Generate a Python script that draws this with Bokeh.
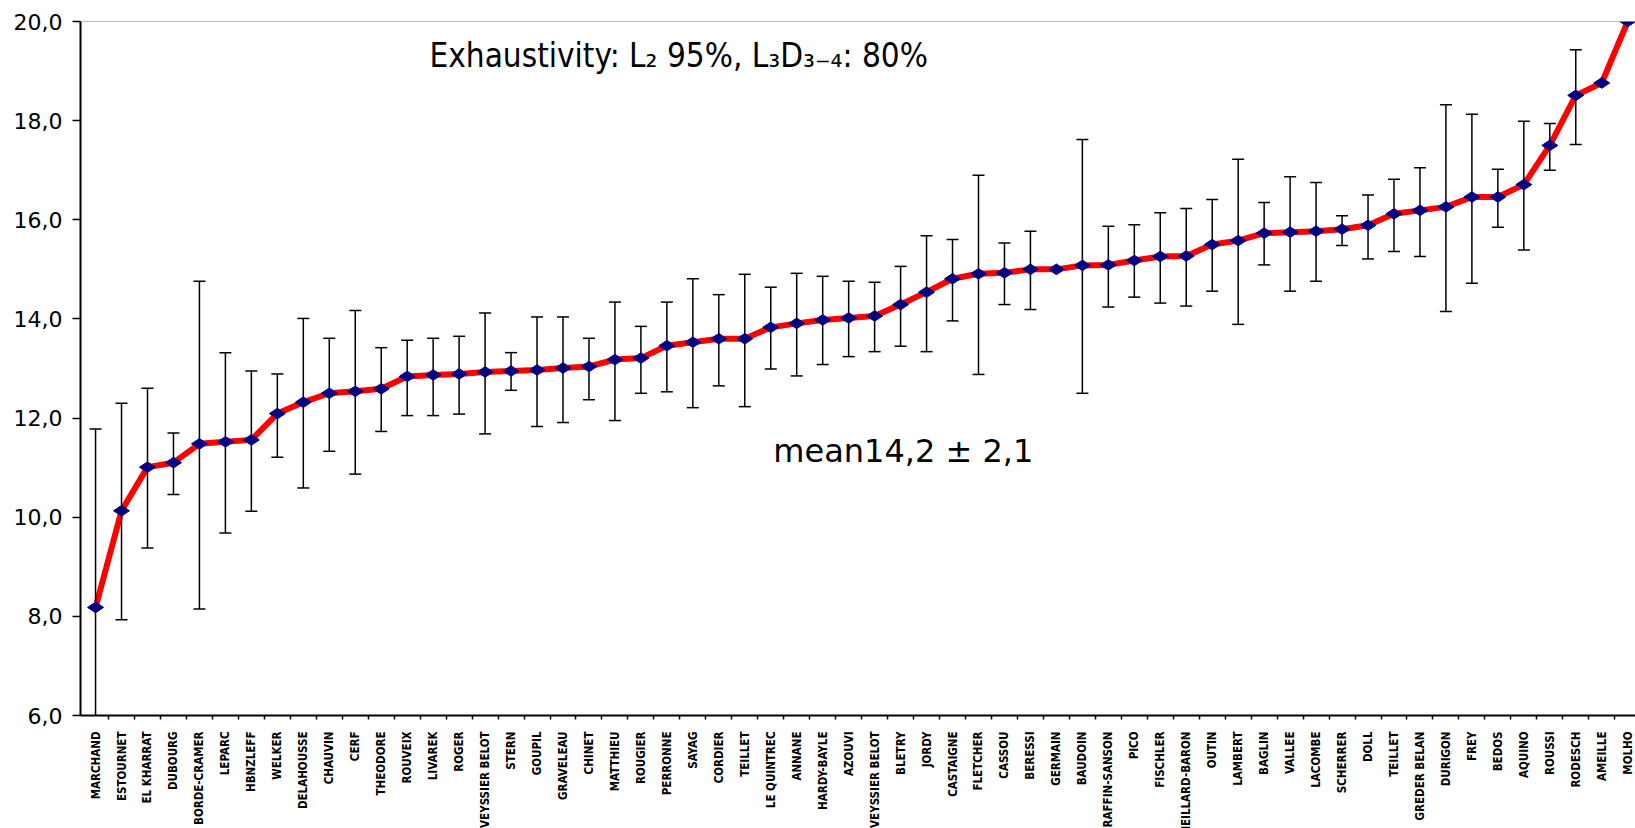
import math
from bokeh.plotting import figure
from bokeh.layouts import column
from bokeh.models import Range1d, FixedTicker, Span, Label
from bokeh.core.properties import value
from bokeh.embed import file_html
from bokeh.resources import INLINE

# ---------------- data ----------------
names = ["MARCHAND", "ESTOURNET", "EL KHARRAT", "DUBOURG", "BORDE-CRAMER", "LEPARC",
         "HBNZLEFF", "WELKER", "DELAHOUSSE", "CHAUVIN", "CERF", "THEODORE", "ROUVEIX",
         "LIVAREK", "ROGER", "VEYSSIER BELOT", "STERN", "GOUPIL", "GRAVELEAU", "CHINET",
         "MATTHIEU", "ROUGIER", "PERRONNE", "SAYAG", "CORDIER", "TEILLET", "LE QUINTREC",
         "ANNANE", "HARDY-BAYLE", "AZOUVI", "VEYSSIER BELOT", "BLETRY", "JORDY",
         "CASTAIGNE", "FLETCHER", "CASSOU", "BERESSI", "GERMAIN", "BAUDOIN",
         "RAFFIN-SANSON", "PICO", "FISCHLER", "VIEILLARD-BARON", "OUTIN", "LAMBERT",
         "BAGLIN", "VALLEE", "LACOMBE", "SCHERRER", "DOLL", "TEILLET", "GREDER BELAN",
         "DURIGON", "FREY", "BEDOS", "AQUINO", "ROUSSI", "RODESCH", "AMEILLE", "MOLHO"]

means = [8.18, 10.13, 11.01, 11.10, 11.48, 11.52, 11.56, 12.09, 12.32, 12.50,
         12.54, 12.59, 12.84, 12.87, 12.89, 12.93, 12.95, 12.97, 13.01, 13.04,
         13.18, 13.21, 13.46, 13.53, 13.60, 13.60, 13.83, 13.91, 13.98, 14.02,
         14.06, 14.29, 14.54, 14.81, 14.91, 14.93, 15.00, 15.00, 15.08, 15.09,
         15.18, 15.26, 15.27, 15.50, 15.58, 15.73, 15.75, 15.77, 15.81, 15.89,
         16.12, 16.19, 16.26, 16.46, 16.46, 16.71, 17.50, 18.51, 18.76, 20.00]

upper = [11.78, 12.30, 12.60, 11.70, 14.76, 13.32, 12.95, 12.89, 14.01, 13.61,
         14.17, 13.42, 13.57, 13.61, 13.65, 14.12, 13.32, 14.04, 14.04, 13.61,
         14.34, 13.85, 14.34, 14.81, 14.49, 14.90, 14.64, 14.92, 14.86, 14.76,
         14.74, 15.06, 15.68, 15.60, 16.90, 15.53, 15.77, 15.00, 17.62, 15.87,
         15.90, 16.14, 16.23, 16.41, 17.22, 16.35, 16.87, 16.75, 16.08, 16.50,
         16.82, 17.05, 18.32, 18.13, 17.02, 17.99, 17.94, 19.43, 18.76, 20.00]

lower = [4.58, 7.93, 9.38, 10.46, 8.15, 9.68, 10.12, 11.21, 10.59, 11.33,
         10.87, 11.73, 12.05, 12.05, 12.08, 11.68, 12.56, 11.83, 11.91, 12.37,
         11.95, 12.50, 12.53, 12.21, 12.65, 12.23, 12.99, 12.85, 13.08, 13.24,
         13.34, 13.45, 13.34, 13.96, 12.88, 14.29, 14.19, 15.00, 12.50, 14.24,
         14.44, 14.32, 14.26, 14.56, 13.89, 15.09, 14.56, 14.76, 15.48, 15.21,
         15.36, 15.26, 14.15, 14.72, 15.85, 15.39, 17.00, 17.52, 18.76, 20.00]

y_ticks = [6, 8, 10, 12, 14, 16, 18, 20]
y_tick_labels = ["6,0", "8,0", "10,0", "12,0", "14,0", "16,0", "18,0", "20,0"]

title_text = "Exhaustivity: L\u2082 95%, L\u2083D\u2083\u208b\u2084: 80%"
mean_text = "mean14,2 \u00b1 2,1"

# ---------------- main figure ----------------
xs = list(range(len(names)))
x_range = Range1d(-0.58, 59.3)

p = figure(width=1635, height=730, output_backend="svg", toolbar_location=None,
           x_range=x_range, y_range=Range1d(6, 20),
           min_border_left=80, min_border_right=0, min_border_top=21,
           min_border_bottom=15)
p.outline_line_color = None
p.grid.visible = False
p.background_fill_color = "white"
p.border_fill_color = "white"

# x axis: only boundary ticks (category names are in the strip below)
p.xaxis.ticker = FixedTicker(ticks=[], minor_ticks=[i + 0.5 for i in xs])
p.xaxis.major_tick_line_color = None
p.xaxis.major_tick_out = 0
p.xaxis.major_label_standoff = 0
p.xaxis.axis_label_standoff = 0
p.xaxis.minor_tick_line_color = "black"
p.xaxis.minor_tick_line_width = 1.5
p.xaxis.minor_tick_out = 4
p.xaxis.minor_tick_in = 0
p.xaxis.axis_line_color = "black"
p.xaxis.axis_line_width = 2

# y axis
p.yaxis.ticker = FixedTicker(ticks=y_ticks)
p.yaxis.major_label_overrides = dict(zip(y_ticks, y_tick_labels))
p.yaxis.minor_tick_line_color = None
p.yaxis.major_tick_out = 8
p.yaxis.major_tick_in = 0
p.yaxis.major_tick_line_width = 1.5
p.yaxis.major_tick_line_color = "black"
p.yaxis.axis_line_color = "black"
p.yaxis.axis_line_width = 2
p.yaxis.major_label_text_font = "DejaVu Sans"
p.yaxis.major_label_text_font_size = "22px"
p.yaxis.major_label_text_color = "black"
p.yaxis.major_label_standoff = 10

# top border line
p.add_layout(Span(location=20, dimension="width", line_color="#808080", line_width=1))

# red line
p.line(xs, means, line_color="#FF0000", line_width=6)

# error bars (only where there is a spread)
xe = [x for x, lo, hi in zip(xs, lower, upper) if hi > lo]
lo_e = [lo for lo, hi in zip(lower, upper) if hi > lo]
hi_e = [hi for lo, hi in zip(lower, upper) if hi > lo]
p.segment(x0=xe, y0=lo_e, x1=xe, y1=hi_e, line_color="black", line_width=1.5)
p.scatter(xe, hi_e, marker="dash", size=12, line_color="black", line_width=1.5)
p.scatter(xe, lo_e, marker="dash", size=12, line_color="black", line_width=1.5)

# markers
p.scatter(xs, means, marker="diamond", size=16, angle=math.pi / 2,
          fill_color="#000080", line_color="#000080")

# annotations
p.add_layout(Label(x=12.86, y=19.32, text=title_text, text_font_size="33px",
                   text_font="DejaVu Sans Condensed",
                   text_color="black", text_baseline="alphabetic"))
p.add_layout(Label(x=26.1, y=11.34, text=mean_text, text_font_size="32px",
                   text_font="DejaVu Sans", text_color="black",
                   text_baseline="alphabetic"))

# ---------------- category-name strip ----------------
q = figure(width=1635, height=98, output_backend="svg", toolbar_location=None,
           x_range=x_range, y_range=Range1d(0, 98),
           x_axis_location=None, y_axis_location=None,
           min_border_left=80, min_border_right=0, min_border_top=0,
           min_border_bottom=0)
q.outline_line_color = None
q.grid.visible = False
q.background_fill_color = "white"
q.border_fill_color = "white"
q.text(x=xs, y=[97] * len(xs), text=names, angle=math.pi / 2,
       text_align="right", text_baseline="middle",
       text_font=value("DejaVu Sans Condensed"), text_font_style="bold",
       text_font_size="11.5px", text_color="black")

open("out.html", "w").write(file_html(column(p, q, spacing=0), INLINE))
